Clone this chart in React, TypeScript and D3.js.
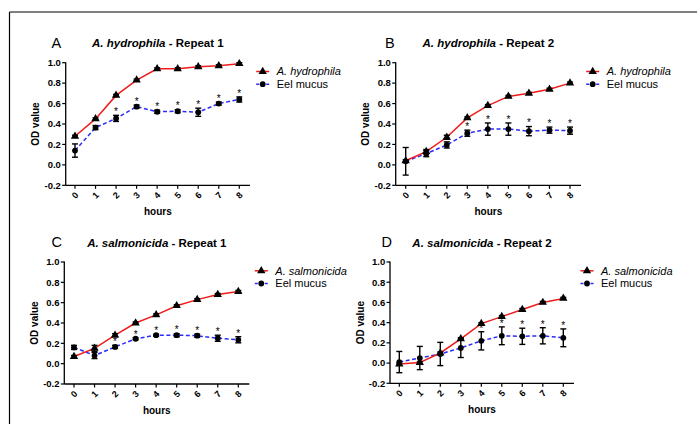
import React from "react";
import * as d3 from "d3";

const hours = [0, 1, 2, 3, 4, 5, 6, 7, 8];
const yTicks = [-0.2, 0.0, 0.2, 0.4, 0.6, 0.8, 1.0];

const aRed = [0.28, 0.45, 0.68, 0.83, 0.94, 0.94, 0.96, 0.97, 0.99];
const aRedErr = [0.01, 0.01, 0.01, 0.01, 0.01, 0.01, 0.01, 0.01, 0.01];
const aBlue = [0.14, 0.365, 0.455, 0.57, 0.52, 0.525, 0.515, 0.6, 0.64];
const aBlueErr = [0.065, 0.02, 0.03, 0.015, 0.015, 0.015, 0.04, 0.015, 0.025];
const aStars = [2, 3, 4, 5, 6, 7, 8];

const bRed = [0.04, 0.13, 0.27, 0.46, 0.58, 0.67, 0.7, 0.74, 0.8];
const bRedErr = [0.01, 0.02, 0.02, 0.01, 0.01, 0.01, 0.01, 0.01, 0.01];
const bBlue = [0.035, 0.11, 0.195, 0.31, 0.35, 0.35, 0.33, 0.34, 0.335];
const bBlueErr = [0.135, 0.03, 0.03, 0.03, 0.06, 0.06, 0.045, 0.03, 0.035];
const bStars = [3, 4, 5, 6, 7, 8];

const cRed = [0.07, 0.15, 0.28, 0.4, 0.48, 0.57, 0.63, 0.68, 0.71];
const cRedErr = [0.01, 0.03, 0.015, 0.01, 0.01, 0.01, 0.01, 0.01, 0.01];
const cBlue = [0.16, 0.08, 0.165, 0.245, 0.28, 0.28, 0.275, 0.25, 0.235];
const cBlueErr = [0.02, 0.03, 0.015, 0.01, 0.01, 0.015, 0.015, 0.03, 0.03];
const cStars = [2, 3, 4, 5, 6, 7, 8];

const dRed = [-0.01, 0.005, 0.1, 0.24, 0.39, 0.46, 0.53, 0.6, 0.64];
const dRedErr = [0.01, 0.01, 0.01, 0.01, 0.01, 0.01, 0.01, 0.01, 0.01];
const dBlue = [0.01, 0.05, 0.09, 0.15, 0.22, 0.27, 0.265, 0.27, 0.25];
const dBlueErr = [0.105, 0.115, 0.115, 0.095, 0.09, 0.088, 0.08, 0.08, 0.088];
const dStars = [4, 5, 6, 7, 8];

const panels = [
  { letter: "A", species: "A. hydrophila", repeat: " - Repeat 1", red: aRed, redErr: aRedErr, blue: aBlue, blueErr: aBlueErr, stars: aStars,
    left: 65.7, right: 250, x0: 75, x8: 239.3, yTop: 62.7, yBot: 185.3, letterX: 51.5 },
  { letter: "B", species: "A. hydrophila", repeat: " - Repeat 2", red: bRed, redErr: bRedErr, blue: bBlue, blueErr: bBlueErr, stars: bStars,
    left: 395.7, right: 581, x0: 405.7, x8: 570, yTop: 62.7, yBot: 185.3, letterX: 385 },
  { letter: "C", species: "A. salmonicida", repeat: " - Repeat 1", red: cRed, redErr: cRedErr, blue: cBlue, blueErr: cBlueErr, stars: cStars,
    left: 64.3, right: 249.3, x0: 74, x8: 238.3, yTop: 262, yBot: 384, letterX: 51.5 },
  { letter: "D", species: "A. salmonicida", repeat: " - Repeat 2", red: dRed, redErr: dRedErr, blue: dBlue, blueErr: dBlueErr, stars: dStars,
    left: 390, right: 574, x0: 399.3, x8: 563.3, yTop: 262, yBot: 383.3, letterX: 381.5 },
];

const FONT = "Arial, 'Liberation Sans', sans-serif";
const RED = "#f01c1c";
const BLUE = "#2b2bff";

function Panel({ p }: { p: any }) {
  const x = d3.scaleLinear().domain([0, 8]).range([p.x0, p.x8]);
  const y = d3.scaleLinear().domain([-0.2, 1.0]).range([p.yBot, p.yTop]);
  const line = d3.line<number>().x((_, i) => x(hours[i])).y((v) => y(v));
  const tri = d3.symbol().type(d3.symbolTriangle).size(30)();
  const titleY = p.yTop - 15.5;
  const cx = (p.left + p.right) / 2;
  const legX = p.left + 197;
  const legY1 = p.yTop + 8.8;
  const legY2 = p.yTop + 21.5;
  const errBars = (vals: number[], errs: number[], key: string) =>
    vals.map((v, i) => {
      const xx = x(hours[i]);
      const t = y(v + errs[i]);
      const b = y(v - errs[i]);
      return (
        <g key={key + i} stroke="#000" strokeWidth={1.4}>
          <line x1={xx} x2={xx} y1={t} y2={b} />
          <line x1={xx - 3} x2={xx + 3} y1={t} y2={t} />
          <line x1={xx - 3} x2={xx + 3} y1={b} y2={b} />
        </g>
      );
    });
  return (
    <g fontFamily={FONT}>
      <text x={p.letterX} y={titleY + 0.8} fontSize={14.5} fill="#000">{p.letter}</text>
      <text x={cx} y={titleY} fontSize={11.5} fontWeight="bold" textAnchor="middle" fill="#000">
        <tspan fontStyle="italic">{p.species}</tspan>
        <tspan>{p.repeat}</tspan>
      </text>
      <line x1={p.left} x2={p.left} y1={p.yTop - 0.5} y2={p.yBot} stroke="#000" strokeWidth={1.3} />
      <line x1={p.left} x2={p.right} y1={p.yBot} y2={p.yBot} stroke="#000" strokeWidth={1.3} />
      {yTicks.map((t) => (
        <g key={"yt" + t}>
          <line x1={p.left - 3.5} x2={p.left} y1={y(t)} y2={y(t)} stroke="#000" strokeWidth={1.2} />
          <text x={p.left - 4.8} y={y(t)} dy="0.35em" fontSize={9.5} fontWeight="bold" textAnchor="end" fill="#000">
            {t.toFixed(1)}
          </text>
        </g>
      ))}
      {hours.map((h) => (
        <g key={"xt" + h}>
          <line x1={x(h)} x2={x(h)} y1={p.yBot} y2={p.yBot + 3.5} stroke="#000" strokeWidth={1.2} />
          <text
            transform={`translate(${x(h)},${p.yBot + 10}) rotate(-45)`}
            fontSize={9} fontWeight="bold" textAnchor="middle" dy="0.35em" fill="#000"
          >
            {h}
          </text>
        </g>
      ))}
      <text x={cx} y={p.yBot + 26.3} dy="0.35em" fontSize={10} fontWeight="bold" textAnchor="middle" fill="#000">hours</text>
      <text
        transform={`translate(${p.left - 30},${(p.yTop + p.yBot) / 2}) rotate(-90)`}
        fontSize={10} fontWeight="bold" textAnchor="middle" dy="0.35em" fill="#000"
      >
        OD value
      </text>
      <path d={line(p.blue) || ""} fill="none" stroke={BLUE} strokeWidth={1.5} strokeDasharray="4,2.5" />
      <path d={line(p.red) || ""} fill="none" stroke={RED} strokeWidth={1.5} />
      {errBars(p.blue, p.blueErr, "be")}
      {errBars(p.red, p.redErr, "re")}
      {p.blue.map((v: number, i: number) => (
        <circle key={"bc" + i} cx={x(hours[i])} cy={y(v)} r={2.9} fill="#000" />
      ))}
      {p.red.map((v: number, i: number) => (
        <path key={"rt" + i} d={tri || ""} transform={`translate(${x(hours[i])},${y(v)})`} fill="#000" />
      ))}
      {p.stars.map((h: number) => (
        <text key={"st" + h} x={x(h)} y={y(p.blue[h] + p.blueErr[h]) - 0.2} fontSize={10} textAnchor="middle" fill="#000">*</text>
      ))}
      <line x1={legX - 6.5} x2={legX + 6.5} y1={legY1} y2={legY1} stroke={RED} strokeWidth={1.5} />
      <path d={tri || ""} transform={`translate(${legX},${legY1})`} fill="#000" />
      <text x={legX + 14} y={legY1} dy="0.35em" fontSize={11} fontStyle="italic" fill="#000">{p.species}</text>
      <line x1={legX - 6.5} x2={legX + 6.5} y1={legY2} y2={legY2} stroke={BLUE} strokeWidth={1.5} strokeDasharray="3,2" />
      <circle cx={legX} cy={legY2} r={2.9} fill="#000" />
      <text x={legX + 14} y={legY2} dy="0.35em" fontSize={11} fill="#000">Eel mucus</text>
    </g>
  );
}

export default function App() {
  return (
    <svg width={697} height={424} style={{ position: "absolute", left: 0, top: 0, background: "#fff" }}>
      <rect x={0} y={0} width={697} height={424} fill="#fff" />
      <line x1={9.5} x2={697} y1={12} y2={12} stroke="#000" strokeWidth={1.2} />
      <line x1={9.5} x2={9.5} y1={12} y2={424} stroke="#000" strokeWidth={1.2} />
      {panels.map((p) => (
        <Panel key={p.letter} p={p} />
      ))}
    </svg>
  );
}
